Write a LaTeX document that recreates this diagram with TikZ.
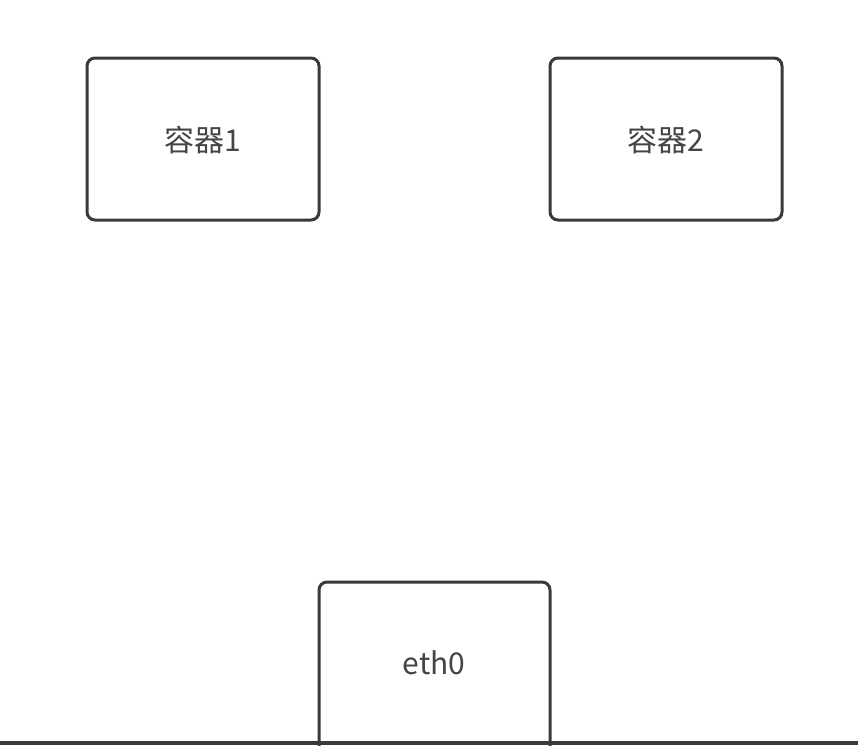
\documentclass[tikz,border=0pt]{standalone}
\usepackage{fontspec}
\newfontfamily\cjk{Noto Sans CJK SC}
\definecolor{boxline}{HTML}{3A3A3A}
\definecolor{txt}{HTML}{444444}
\begin{document}
\begin{tikzpicture}[x=1pt,y=-1pt,
  box/.style={draw=boxline,line width=3pt,rounded corners=8pt,fill=white},
  lbl/.style={text=txt,font=\cjk\fontsize{30}{33}\selectfont}]
\useasboundingbox (0,0) rectangle (858,745);
\draw[box] (87,58) rectangle (319,220);
\draw[box] (550,58) rectangle (782,220);
\draw[box] (319,582) rectangle (550,760);
\node[lbl] (c1) at (203,140) {容器1};
\node[lbl] (c2) at (666,140) {容器2};
\node[lbl] (e0) at (434,663) {eth0};
\fill[boxline] (0,741) rectangle (858,745);
\end{tikzpicture}
\end{document}
